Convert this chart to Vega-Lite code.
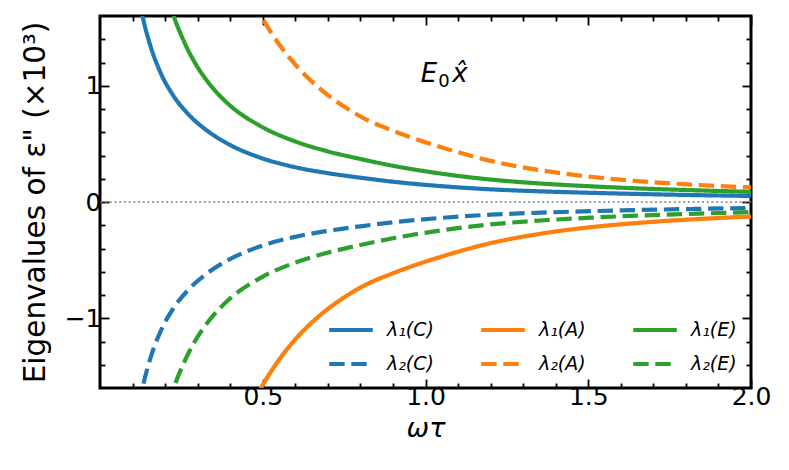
{
  "$schema": "https://vega.github.io/schema/vega-lite/v6.json",
  "autosize": "none",
  "width": 651,
  "height": 372,
  "padding": {"left": 100, "top": 16, "right": 38, "bottom": 82},
  "config": {
    "font": "DejaVu Sans",
    "view": {"stroke": "black", "strokeWidth": 3},
    "axis": {"domain": false, "grid": false, "tickColor": "black", "tickWidth": 1.8, "labelColor": "black", "titleColor": "black", "titleFontWeight": "normal"}
  },
  "layer": [
    {
      "data": {"values": [{}]},
      "mark": {"type": "rule", "stroke": "#808080", "strokeWidth": 1.6, "strokeDash": [2, 2.7]},
      "encoding": {
        "y": {"datum": 0, "type": "quantitative", "scale": {"domain": [-1.6, 1.6], "nice": false, "zero": false}, "axis": null}
      }
    },
    {
      "data": {"values": [
        {"s": "λ₁(C)", "x": 0.12, "y": 1.75}, {"s": "λ₁(C)", "x": 0.13, "y": 1.608}, {"s": "λ₁(C)", "x": 0.155, "y": 1.342}, {"s": "λ₁(C)", "x": 0.185, "y": 1.119}, {"s": "λ₁(C)", "x": 0.225, "y": 0.916}, {"s": "λ₁(C)", "x": 0.27, "y": 0.759}, {"s": "λ₁(C)", "x": 0.33, "y": 0.612}, {"s": "λ₁(C)", "x": 0.39, "y": 0.505}, {"s": "λ₁(C)", "x": 0.493, "y": 0.381}, {"s": "λ₁(C)", "x": 0.595, "y": 0.302}, {"s": "λ₁(C)", "x": 0.698, "y": 0.249}, {"s": "λ₁(C)", "x": 0.8, "y": 0.209}, {"s": "λ₁(C)", "x": 0.892, "y": 0.177}, {"s": "λ₁(C)", "x": 1.046, "y": 0.137}, {"s": "λ₁(C)", "x": 1.2, "y": 0.109}, {"s": "λ₁(C)", "x": 1.354, "y": 0.0916}, {"s": "λ₁(C)", "x": 1.507, "y": 0.079}, {"s": "λ₁(C)", "x": 1.661, "y": 0.0686}, {"s": "λ₁(C)", "x": 1.815, "y": 0.06}, {"s": "λ₁(C)", "x": 2.0, "y": 0.052},
        {"s": "λ₂(C)", "x": 0.12, "y": -1.75}, {"s": "λ₂(C)", "x": 0.13, "y": -1.608}, {"s": "λ₂(C)", "x": 0.155, "y": -1.342}, {"s": "λ₂(C)", "x": 0.185, "y": -1.119}, {"s": "λ₂(C)", "x": 0.225, "y": -0.916}, {"s": "λ₂(C)", "x": 0.27, "y": -0.759}, {"s": "λ₂(C)", "x": 0.33, "y": -0.612}, {"s": "λ₂(C)", "x": 0.39, "y": -0.505}, {"s": "λ₂(C)", "x": 0.493, "y": -0.381}, {"s": "λ₂(C)", "x": 0.595, "y": -0.302}, {"s": "λ₂(C)", "x": 0.698, "y": -0.249}, {"s": "λ₂(C)", "x": 0.8, "y": -0.209}, {"s": "λ₂(C)", "x": 0.892, "y": -0.177}, {"s": "λ₂(C)", "x": 1.046, "y": -0.137}, {"s": "λ₂(C)", "x": 1.2, "y": -0.109}, {"s": "λ₂(C)", "x": 1.354, "y": -0.0916}, {"s": "λ₂(C)", "x": 1.507, "y": -0.079}, {"s": "λ₂(C)", "x": 1.661, "y": -0.0686}, {"s": "λ₂(C)", "x": 1.815, "y": -0.06}, {"s": "λ₂(C)", "x": 2.0, "y": -0.052},
        {"s": "λ₁(A)", "x": 0.47, "y": -1.734}, {"s": "λ₁(A)", "x": 0.497, "y": -1.59}, {"s": "λ₁(A)", "x": 0.548, "y": -1.365}, {"s": "λ₁(A)", "x": 0.613, "y": -1.142}, {"s": "λ₁(A)", "x": 0.68, "y": -0.965}, {"s": "λ₁(A)", "x": 0.745, "y": -0.83}, {"s": "λ₁(A)", "x": 0.82, "y": -0.707}, {"s": "λ₁(A)", "x": 0.892, "y": -0.622}, {"s": "λ₁(A)", "x": 0.97, "y": -0.541}, {"s": "λ₁(A)", "x": 1.046, "y": -0.473}, {"s": "λ₁(A)", "x": 1.2, "y": -0.354}, {"s": "λ₁(A)", "x": 1.354, "y": -0.273}, {"s": "λ₁(A)", "x": 1.507, "y": -0.217}, {"s": "λ₁(A)", "x": 1.661, "y": -0.178}, {"s": "λ₁(A)", "x": 1.815, "y": -0.15}, {"s": "λ₁(A)", "x": 2.0, "y": -0.125},
        {"s": "λ₂(A)", "x": 0.47, "y": 1.734}, {"s": "λ₂(A)", "x": 0.497, "y": 1.59}, {"s": "λ₂(A)", "x": 0.548, "y": 1.365}, {"s": "λ₂(A)", "x": 0.613, "y": 1.142}, {"s": "λ₂(A)", "x": 0.68, "y": 0.965}, {"s": "λ₂(A)", "x": 0.745, "y": 0.83}, {"s": "λ₂(A)", "x": 0.82, "y": 0.707}, {"s": "λ₂(A)", "x": 0.892, "y": 0.622}, {"s": "λ₂(A)", "x": 0.97, "y": 0.541}, {"s": "λ₂(A)", "x": 1.046, "y": 0.473}, {"s": "λ₂(A)", "x": 1.2, "y": 0.354}, {"s": "λ₂(A)", "x": 1.354, "y": 0.273}, {"s": "λ₂(A)", "x": 1.507, "y": 0.217}, {"s": "λ₂(A)", "x": 1.661, "y": 0.178}, {"s": "λ₂(A)", "x": 1.815, "y": 0.15}, {"s": "λ₂(A)", "x": 2.0, "y": 0.125},
        {"s": "λ₁(E)", "x": 0.21, "y": 1.738}, {"s": "λ₁(E)", "x": 0.227, "y": 1.595}, {"s": "λ₁(E)", "x": 0.259, "y": 1.375}, {"s": "λ₁(E)", "x": 0.288, "y": 1.215}, {"s": "λ₁(E)", "x": 0.339, "y": 1.006}, {"s": "λ₁(E)", "x": 0.39, "y": 0.854}, {"s": "λ₁(E)", "x": 0.493, "y": 0.653}, {"s": "λ₁(E)", "x": 0.595, "y": 0.526}, {"s": "λ₁(E)", "x": 0.698, "y": 0.437}, {"s": "λ₁(E)", "x": 0.8, "y": 0.37}, {"s": "λ₁(E)", "x": 0.892, "y": 0.316}, {"s": "λ₁(E)", "x": 1.046, "y": 0.245}, {"s": "λ₁(E)", "x": 1.2, "y": 0.193}, {"s": "λ₁(E)", "x": 1.354, "y": 0.159}, {"s": "λ₁(E)", "x": 1.507, "y": 0.135}, {"s": "λ₁(E)", "x": 1.661, "y": 0.116}, {"s": "λ₁(E)", "x": 1.815, "y": 0.102}, {"s": "λ₁(E)", "x": 2.0, "y": 0.087},
        {"s": "λ₂(E)", "x": 0.21, "y": -1.738}, {"s": "λ₂(E)", "x": 0.227, "y": -1.595}, {"s": "λ₂(E)", "x": 0.259, "y": -1.375}, {"s": "λ₂(E)", "x": 0.288, "y": -1.215}, {"s": "λ₂(E)", "x": 0.339, "y": -1.006}, {"s": "λ₂(E)", "x": 0.39, "y": -0.854}, {"s": "λ₂(E)", "x": 0.493, "y": -0.653}, {"s": "λ₂(E)", "x": 0.595, "y": -0.526}, {"s": "λ₂(E)", "x": 0.698, "y": -0.437}, {"s": "λ₂(E)", "x": 0.8, "y": -0.37}, {"s": "λ₂(E)", "x": 0.892, "y": -0.316}, {"s": "λ₂(E)", "x": 1.046, "y": -0.245}, {"s": "λ₂(E)", "x": 1.2, "y": -0.193}, {"s": "λ₂(E)", "x": 1.354, "y": -0.159}, {"s": "λ₂(E)", "x": 1.507, "y": -0.135}, {"s": "λ₂(E)", "x": 1.661, "y": -0.116}, {"s": "λ₂(E)", "x": 1.815, "y": -0.102}, {"s": "λ₂(E)", "x": 2.0, "y": -0.087}
      ]},
      "mark": {"type": "line", "strokeWidth": 4.2, "interpolate": "monotone", "clip": true},
      "encoding": {
        "x": {
          "field": "x", "type": "quantitative",
          "scale": {"domain": [0, 2], "nice": false, "zero": false},
          "axis": {
            "orient": "bottom",
            "values": [0.1, 0.2, 0.3, 0.4, 0.5, 0.6, 0.7, 0.8, 0.9, 1.0, 1.1, 1.2, 1.3, 1.4, 1.5, 1.6, 1.7, 1.8, 1.9, 2.0],
            "labelExpr": "abs(datum.value*2 - round(datum.value*2)) < 0.001 ? format(datum.value, '.1f') : ''",
            "tickSize": {"condition": {"test": "abs(datum.value*2 - round(datum.value*2)) < 0.001", "value": -9}, "value": -5},
            "labelFontSize": 25, "labelPadding": 5, "labelFlush": false,
            "title": "ωτ", "titleFontSize": 27, "titleFontStyle": "italic", "titlePadding": 6
          }
        },
        "y": {
          "field": "y", "type": "quantitative",
          "scale": {"domain": [-1.6, 1.6], "nice": false, "zero": false},
          "axis": {
            "orient": "left",
            "values": [-1.4, -1.2, -1.0, -0.8, -0.6, -0.4, -0.2, 0, 0.2, 0.4, 0.6, 0.8, 1.0, 1.2, 1.4],
            "labelExpr": "abs(datum.value - round(datum.value)) < 0.001 ? format(datum.value, 'd') : ''",
            "tickSize": {"condition": {"test": "abs(datum.value - round(datum.value)) < 0.001", "value": -9}, "value": -5},
            "labelFontSize": 25, "labelPadding": 8,
            "title": "Eigenvalues of ε\" (×10³)", "titleFontSize": 29.5, "titlePadding": 14
          }
        },
        "color": {
          "field": "s", "type": "nominal", "title": null,
          "scale": {"domain": ["λ₁(C)", "λ₂(C)", "λ₁(A)", "λ₂(A)", "λ₁(E)", "λ₂(E)"], "range": ["#1f77b4", "#1f77b4", "#ff7f0e", "#ff7f0e", "#2ca02c", "#2ca02c"]},
          "legend": {
            "orient": "bottom-right", "offset": 14, "padding": 0, "columns": 3,
            "columnPadding": 38, "rowPadding": -10,
            "symbolType": "stroke", "symbolSize": 1900, "symbolStrokeWidth": 4.2,
            "labelFontSize": 19, "labelFontStyle": "italic", "labelOffset": 12, "labelColor": "black"
          }
        },
        "strokeDash": {
          "field": "s", "type": "nominal", "title": null,
          "scale": {"domain": ["λ₁(C)", "λ₂(C)", "λ₁(A)", "λ₂(A)", "λ₁(E)", "λ₂(E)"], "range": [[1, 0], [15.4, 6.7], [1, 0], [15.4, 6.7], [1, 0], [15.4, 6.7]]}
        }
      }
    },
    {
      "data": {"values": [{"x": 1.06, "y": 1.035}]},
      "mark": {"type": "text", "text": "E", "fontSize": 26, "fontStyle": "italic", "align": "center", "baseline": "alphabetic", "color": "black", "dx": -16},
      "encoding": {
        "x": {
          "field": "x", "type": "quantitative",
          "scale": {"domain": [0, 2], "nice": false, "zero": false},
          "axis": {
            "orient": "top", "labels": false, "title": null,
            "values": [0.1, 0.2, 0.3, 0.4, 0.5, 0.6, 0.7, 0.8, 0.9, 1.0, 1.1, 1.2, 1.3, 1.4, 1.5, 1.6, 1.7, 1.8, 1.9, 2.0],
            "tickSize": {"condition": {"test": "abs(datum.value*2 - round(datum.value*2)) < 0.001", "value": -9}, "value": -5}
          }
        },
        "y": {
          "field": "y", "type": "quantitative",
          "scale": {"domain": [-1.6, 1.6], "nice": false, "zero": false},
          "axis": {
            "orient": "right", "labels": false, "title": null,
            "values": [-1.4, -1.2, -1.0, -0.8, -0.6, -0.4, -0.2, 0, 0.2, 0.4, 0.6, 0.8, 1.0, 1.2, 1.4],
            "tickSize": {"condition": {"test": "abs(datum.value - round(datum.value)) < 0.001", "value": -9}, "value": -5}
          }
        }
      }
    },
    {
      "data": {"values": [{"x": 1.06, "y": 1.035}]},
      "mark": {"type": "text", "text": "0", "fontSize": 18, "align": "center", "baseline": "alphabetic", "color": "black", "dx": -1, "dy": 5},
      "encoding": {
        "x": {"field": "x", "type": "quantitative", "axis": null},
        "y": {"field": "y", "type": "quantitative", "axis": null}
      }
    },
    {
      "data": {"values": [{"x": 1.06, "y": 1.035}]},
      "mark": {"type": "text", "text": "x̂", "fontSize": 26, "fontStyle": "italic", "align": "center", "baseline": "alphabetic", "color": "black", "dx": 15},
      "encoding": {
        "x": {"field": "x", "type": "quantitative", "axis": null},
        "y": {"field": "y", "type": "quantitative", "axis": null}
      }
    }
  ],
  "resolve": {"axis": {"x": "independent", "y": "independent"}}
}
